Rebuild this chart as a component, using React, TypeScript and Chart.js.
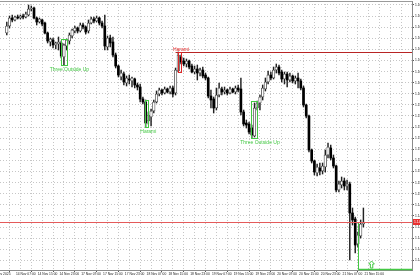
import React, { useEffect, useRef } from "react";
import { Chart, registerables } from "chart.js";

Chart.register(...registerables);

// ---- DATA (H1 bars, first bar = 14 Nov 04:00) ----
const openPrices = [
  1.1667, 1.1674, 1.1682, 1.168, 1.1683, 1.1682, 1.1684, 1.1683, 1.1685, 1.1691,
  1.1692, 1.1682, 1.1678, 1.168, 1.1677, 1.1667, 1.1658, 1.166, 1.1655, 1.1656,
  1.1657, 1.1643, 1.1654, 1.1659, 1.1664, 1.1669, 1.1672, 1.1669, 1.1675, 1.1673,
  1.1669, 1.1677, 1.1681, 1.1679, 1.1682, 1.1677, 1.1674, 1.1653, 1.1662, 1.1658,
  1.1645, 1.1634, 1.1623, 1.1626, 1.1617, 1.1621, 1.1619, 1.1621, 1.1615, 1.1613,
  1.1601, 1.1598, 1.1579, 1.1583, 1.1589, 1.1598, 1.1606, 1.161, 1.1607, 1.1611,
  1.1608, 1.1612, 1.1607, 1.1629, 1.1643, 1.1639, 1.1636, 1.1639, 1.1634, 1.1628,
  1.1631, 1.1627, 1.163, 1.1625, 1.1622, 1.1604, 1.1601, 1.1592, 1.1605, 1.1611,
  1.1608, 1.161, 1.1607, 1.1611, 1.1608, 1.1612, 1.1611, 1.1588, 1.1577, 1.1576,
  1.1572, 1.1564, 1.1592, 1.1597, 1.1603, 1.1611, 1.1618, 1.1625, 1.1622, 1.163,
  1.1633, 1.1628, 1.1621, 1.1626, 1.162, 1.1624, 1.1619, 1.1622, 1.1619, 1.1612,
  1.1595, 1.1584, 1.155, 1.1539, 1.1527, 1.1532, 1.1529, 1.1533, 1.1545, 1.1552,
  1.1542, 1.1534, 1.151, 1.1515, 1.1519, 1.1514, 1.1516, 1.1487, 1.1481, 1.1456,
  1.1464, 1.1476,
];
const highPrices = [
  1.1678, 1.1684, 1.1685, 1.1684, 1.1685, 1.1685, 1.1686, 1.1688, 1.1695, 1.1694,
  1.1693, 1.1683, 1.1682, 1.1681, 1.1678, 1.1668, 1.1662, 1.1662, 1.1658, 1.1663,
  1.1659, 1.1656, 1.1661, 1.1667, 1.1671, 1.1674, 1.1673, 1.1677, 1.1677, 1.1674,
  1.168, 1.1683, 1.1683, 1.1684, 1.1683, 1.1679, 1.1685, 1.1664, 1.1665, 1.1663,
  1.1647, 1.1635, 1.163, 1.1628, 1.1624, 1.1625, 1.1623, 1.1622, 1.1617, 1.1616,
  1.1603, 1.16, 1.1588, 1.1591, 1.16, 1.1609, 1.1612, 1.1611, 1.1613, 1.1612,
  1.1614, 1.1614, 1.1632, 1.1648, 1.1645, 1.1642, 1.1641, 1.164, 1.1636, 1.1634,
  1.1635, 1.1632, 1.1633, 1.1627, 1.1623, 1.161, 1.1603, 1.1612, 1.1617, 1.1613,
  1.1613, 1.1611, 1.1613, 1.1612, 1.1614, 1.1615, 1.1622, 1.159, 1.158, 1.1578,
  1.1575, 1.1597, 1.1599, 1.1605, 1.1615, 1.1622, 1.1629, 1.1628, 1.1633, 1.1636,
  1.1635, 1.163, 1.1628, 1.1628, 1.1627, 1.1625, 1.1624, 1.1627, 1.1621, 1.1614,
  1.1596, 1.1585, 1.1551, 1.154, 1.1536, 1.1537, 1.1537, 1.155, 1.1557, 1.1555,
  1.1545, 1.1535, 1.1519, 1.1523, 1.1522, 1.152, 1.1518, 1.1492, 1.1483, 1.1468,
  1.148, 1.1492,
];
const lowPrices = [
  1.1665, 1.1672, 1.1678, 1.1679, 1.1681, 1.1681, 1.1681, 1.1682, 1.1684, 1.1689,
  1.1681, 1.1675, 1.1677, 1.1674, 1.1666, 1.1657, 1.1654, 1.1652, 1.1651, 1.165,
  1.1642, 1.1635, 1.165, 1.1656, 1.1662, 1.1667, 1.1667, 1.1668, 1.1671, 1.1666,
  1.1667, 1.1676, 1.1677, 1.1678, 1.1675, 1.1672, 1.165, 1.165, 1.1653, 1.1643,
  1.1632, 1.1623, 1.162, 1.1615, 1.1614, 1.1616, 1.1613, 1.1612, 1.161, 1.1598,
  1.1596, 1.1573, 1.1576, 1.1574, 1.1587, 1.1597, 1.1604, 1.1605, 1.1606, 1.1607,
  1.1606, 1.1603, 1.1605, 1.1628, 1.1636, 1.1634, 1.1633, 1.1631, 1.1627, 1.1626,
  1.162, 1.1624, 1.1622, 1.162, 1.1602, 1.1592, 1.1587, 1.159, 1.1603, 1.1605,
  1.1606, 1.1605, 1.1606, 1.1607, 1.1606, 1.1608, 1.1585, 1.1574, 1.1572, 1.1566,
  1.1562, 1.1563, 1.159, 1.159, 1.16, 1.1609, 1.1616, 1.162, 1.1621, 1.1627,
  1.1625, 1.1618, 1.1616, 1.1613, 1.1618, 1.1617, 1.1616, 1.1612, 1.161, 1.1593,
  1.1582, 1.1548, 1.1537, 1.1525, 1.1524, 1.1525, 1.1526, 1.1528, 1.1542, 1.154,
  1.1532, 1.1508, 1.1508, 1.1512, 1.151, 1.151, 1.144, 1.1475, 1.1447, 1.1453,
  1.1462, 1.1473,
];
const closePrices = [
  1.1674, 1.1682, 1.168, 1.1683, 1.1682, 1.1684, 1.1683, 1.1686, 1.1691, 1.1692,
  1.1682, 1.1678, 1.1681, 1.1676, 1.1667, 1.1659, 1.1661, 1.1655, 1.1657, 1.1658,
  1.1644, 1.1655, 1.166, 1.1665, 1.167, 1.1672, 1.1669, 1.1675, 1.1673, 1.1668,
  1.1677, 1.1681, 1.1679, 1.1682, 1.1677, 1.1674, 1.1654, 1.1662, 1.1657, 1.1645,
  1.1634, 1.1625, 1.1627, 1.1618, 1.1622, 1.162, 1.1622, 1.1615, 1.1613, 1.1601,
  1.1598, 1.1577, 1.1585, 1.1589, 1.1598, 1.1606, 1.161, 1.1607, 1.1611, 1.1608,
  1.1612, 1.1606, 1.163, 1.1645, 1.1638, 1.1636, 1.1639, 1.1633, 1.1628, 1.1631,
  1.1627, 1.163, 1.1624, 1.1622, 1.1604, 1.16, 1.1592, 1.1605, 1.1612, 1.1608,
  1.161, 1.1607, 1.1611, 1.1608, 1.1612, 1.161, 1.1588, 1.1576, 1.1575, 1.1568,
  1.1565, 1.1592, 1.1597, 1.1603, 1.1612, 1.1618, 1.1625, 1.1622, 1.163, 1.1633,
  1.1627, 1.1621, 1.1626, 1.162, 1.1624, 1.1619, 1.1622, 1.1619, 1.1612, 1.1595,
  1.1584, 1.155, 1.1539, 1.1528, 1.1533, 1.1529, 1.1534, 1.1545, 1.1553, 1.1542,
  1.1534, 1.151, 1.1516, 1.1519, 1.1514, 1.1516, 1.1487, 1.148, 1.1455, 1.1465,
  1.1476, 1.1478,
];

// time labels, one every 8 bars starting at bar 3
const timeLabels = [
  "14 Nov 07:00", "14 Nov 15:00", "14 Nov 23:00", "17 Nov 07:00", "17 Nov 15:00",
  "17 Nov 23:00", "18 Nov 07:00", "18 Nov 15:00", "18 Nov 23:00", "19 Nov 07:00",
  "19 Nov 15:00", "19 Nov 23:00", "20 Nov 07:00", "20 Nov 15:00", "20 Nov 23:00",
  "21 Nov 07:00", "21 Nov 15:00",
];
const firstLabelBar = 3;
const leftDateLabel = "14 Nov 2025";

const priceTicks = [
  1.1695, 1.16839, 1.16728, 1.16617, 1.16506, 1.16395, 1.16284, 1.16173,
  1.16062, 1.15951, 1.1584, 1.15729, 1.15618, 1.15507, 1.15396, 1.15285,
  1.15174, 1.15063, 1.14952, 1.14841, 1.1473, 1.14619, 1.14508, 1.14397,
];

// candle patterns
const patternNames = ["Three Outside Up", "Harami", "Harami", "Three Outside Up"];
const patternStart = [20, 51, 63, 90];
const patternEnd = [22, 52, 64, 92];
const patternBullish = [true, true, false, true];
const patternLabelBar = [23, 52, 64, 93];

// signal zone / arrow
const zoneStartBar = 129;
const zoneBottomPrice = 1.143;
const arrowBar = 134;
const arrowTipPrice = 1.1439;

const X_MIN = -0.39;
const X_MAX = 146.75;
const Y_MIN = 1.143;
const Y_MAX = 1.1699;

const GREEN = "#44c844";
const RED = "#e02828";
const FONT = "'Liberation Sans', Arial, sans-serif";

const overlayPlugin = {
  id: "overlay",
  afterDatasetsDraw(chart: any) {
    const { ctx, chartArea: a, scales } = chart;
    const xs = scales.x;
    const ys = scales.y;
    const px = (v: number) => xs.getPixelForValue(v);
    const py = (v: number) => ys.getPixelForValue(v);
    const snap = (v: number) => Math.round(v) + 0.5;
    const last = closePrices.length - 1;

    ctx.save();
    ctx.beginPath();
    ctx.rect(a.left, a.top, a.right - a.left, a.bottom - a.top + 1);
    ctx.clip();

    // top border
    ctx.strokeStyle = "#9a9a9a";
    ctx.lineWidth = 1;
    ctx.beginPath();
    ctx.moveTo(a.left, snap(a.top - 0.5));
    ctx.lineTo(a.right, snap(a.top - 0.5));
    ctx.stroke();

    // green zone
    const zx = snap(px(zoneStartBar));
    const zt = snap(py(closePrices[last]));
    const zb = Math.round(py(zoneBottomPrice)) - 0.5;
    ctx.strokeStyle = GREEN;
    ctx.lineWidth = 1;
    ctx.beginPath();
    ctx.moveTo(a.right + 2, zt);
    ctx.lineTo(zx, zt);
    ctx.lineTo(zx, zb);
    ctx.lineTo(a.right + 2, zb);
    ctx.stroke();
    ctx.lineWidth = 1.5;
    ctx.beginPath();
    ctx.moveTo(zx, zb);
    ctx.lineTo(a.right, zb);
    ctx.stroke();

    // arrow
    const ax = px(arrowBar);
    const at = py(arrowTipPrice);
    ctx.lineWidth = 1;
    ctx.strokeStyle = GREEN;
    ctx.beginPath();
    ctx.moveTo(ax, at);
    ctx.lineTo(ax + 2.8, at + 3);
    ctx.lineTo(ax + 1.2, at + 3);
    ctx.lineTo(ax + 1.2, at + 7);
    ctx.lineTo(ax - 1.2, at + 7);
    ctx.lineTo(ax - 1.2, at + 3);
    ctx.lineTo(ax - 2.8, at + 3);
    ctx.closePath();
    ctx.stroke();

    // resistance line from red Harami
    const redIdx = patternBullish.indexOf(false);
    let resPrice = -Infinity;
    for (let i = patternStart[redIdx]; i <= patternEnd[redIdx]; i++) resPrice = Math.max(resPrice, highPrices[i]);
    ctx.strokeStyle = "#b82424";
    ctx.lineWidth = 1;
    ctx.beginPath();
    ctx.moveTo(px(patternStart[redIdx] - 1), snap(py(resPrice)));
    ctx.lineTo(a.right, snap(py(resPrice)));
    ctx.stroke();

    // current price line
    ctx.strokeStyle = "#e45a5a";
    ctx.beginPath();
    ctx.moveTo(a.left, snap(py(closePrices[last])));
    ctx.lineTo(a.right, snap(py(closePrices[last])));
    ctx.stroke();

    // pattern boxes + labels
    ctx.font = `5px ${FONT}`;
    ctx.textAlign = "center";
    patternNames.forEach((name, k) => {
      let hi = -Infinity;
      let lo = Infinity;
      for (let i = patternStart[k]; i <= patternEnd[k]; i++) {
        hi = Math.max(hi, highPrices[i]);
        lo = Math.min(lo, lowPrices[i]);
      }
      const color = patternBullish[k] ? GREEN : RED;
      const x1 = snap(px(patternStart[k]) - 0.5);
      const x2 = snap(px(patternEnd[k]));
      const y1 = snap(py(hi));
      const y2 = snap(py(lo));
      ctx.strokeStyle = color;
      ctx.lineWidth = 1;
      ctx.strokeRect(x1, y1, x2 - x1, y2 - y1);
      ctx.fillStyle = color;
      if (patternBullish[k]) {
        ctx.textBaseline = "top";
        ctx.fillText(name, px(patternLabelBar[k]), y2 + 1.5);
      } else {
        ctx.textBaseline = "bottom";
        ctx.fillText(name, px(patternLabelBar[k]), y1 - 0.5);
      }
    });
    ctx.restore();
  },
  afterDraw(chart: any) {
    const { ctx, chartArea: a, scales } = chart;
    const py = (v: number) => scales.y.getPixelForValue(v);
    const last = closePrices.length - 1;
    const yc = Math.round(py(closePrices[last]));
    ctx.save();
    ctx.fillStyle = "#e83030";
    ctx.fillRect(a.right + 1, yc - 3, 12, 6);
    ctx.fillStyle = "#ffffff";
    ctx.font = `3.4px ${FONT}`;
    ctx.textAlign = "left";
    ctx.textBaseline = "middle";
    ctx.fillText(closePrices[last].toFixed(5), a.right + 2, yc + 0.3);
    // leftmost date label (cut by the canvas edge)
    ctx.fillStyle = "#222";
    ctx.textAlign = "right";
    ctx.textBaseline = "top";
    ctx.fillText(leftDateLabel, scales.x.getPixelForValue(1.4), a.bottom + 2.5);
    ctx.restore();
  },
};

export default function App() {
  const ref = useRef<HTMLCanvasElement | null>(null);

  useEffect(() => {
    if (!ref.current) return;
    const idx = openPrices.map((_, i) => i);
    const bullIdx = idx.filter((i) => closePrices[i] >= openPrices[i]);
    const bearIdx = idx.filter((i) => closePrices[i] < openPrices[i]);
    const bullBodies = bullIdx.map((i) => ({ x: i, y: [openPrices[i], closePrices[i]] }));
    const bearBodies = bearIdx.map((i) => ({ x: i, y: [openPrices[i], closePrices[i]] }));
    const wicks = idx.map((i) => ({ x: i, y: [lowPrices[i], highPrices[i]] }));
    const gridBars: number[] = [];
    for (let v = firstLabelBar; v < X_MAX; v += 4) gridBars.push(v);
    const labelFor = (v: number) => {
      const n = (v - firstLabelBar) / 8;
      return Number.isInteger(n) && n < timeLabels.length ? timeLabels[n] : "";
    };

    const chart = new Chart(ref.current, {
      type: "bar",
      data: {
        datasets: [
          {
            label: "bull",
            data: bullBodies as any,
            order: 0,
            grouped: false,
            barThickness: 2.6,
            backgroundColor: "#ffffff",
            borderColor: "#4a4a4a",
            borderWidth: 0.8,
            borderSkipped: false,
          } as any,
          {
            label: "bear",
            data: bearBodies as any,
            order: 0,
            grouped: false,
            barThickness: 2,
            backgroundColor: "#000000",
            borderWidth: 0,
            minBarLength: 1,
          } as any,
          {
            label: "wick",
            data: wicks as any,
            order: 1,
            grouped: false,
            barThickness: 0.8,
            backgroundColor: "#222222",
            borderWidth: 0,
          } as any,
        ],
      },
      options: {
        animation: false,
        responsive: false,
        maintainAspectRatio: false,
        layout: { padding: { top: 1, left: 0, right: 0, bottom: 0 } },
        plugins: { legend: { display: false }, tooltip: { enabled: false } },
        scales: {
          x: {
            type: "linear",
            min: X_MIN,
            max: X_MAX,
            afterBuildTicks: (s: any) => {
              s.ticks = gridBars.map((v) => ({ value: v }));
            },
            afterFit: (s: any) => {
              s.height = 10;
              s.paddingLeft = 0;
              s.paddingRight = 0;
            },
            grid: {
              color: "#c6c6c6",
              lineWidth: 1,
              drawTicks: true,
              tickLength: 2,
              tickColor: (c: any) => (c.tick && labelFor(c.tick.value) ? "#555" : "rgba(0,0,0,0)"),
            },
            border: { display: true, color: "#8a8a8a", width: 1, dash: [1, 2] },
            ticks: {
              autoSkip: false,
              maxRotation: 0,
              minRotation: 0,
              align: "start",
              labelOffset: 1,
              padding: 0.5,
              color: "#222",
              font: { size: 3.3, family: FONT },
              callback: (v: any) => labelFor(Number(v)),
            },
          } as any,
          y: {
            position: "right",
            min: Y_MIN,
            max: Y_MAX,
            afterBuildTicks: (s: any) => {
              s.ticks = priceTicks.map((v) => ({ value: v }));
            },
            afterFit: (s: any) => {
              s.width = 8;
              s.paddingTop = 0;
              s.paddingBottom = 0;
            },
            grid: { color: "#c6c6c6", lineWidth: 1, tickLength: 2, tickColor: "#555" },
            border: { display: true, color: "#8a8a8a", width: 1, dash: [1, 2] },
            ticks: {
              padding: 1,
              color: "#222",
              font: { size: 3.3, family: FONT },
              callback: (v: any) => Number(v).toFixed(5),
            },
          } as any,
        },
      },
      plugins: [overlayPlugin],
    });
    return () => chart.destroy();
  }, []);

  return (
    <div style={{ position: "fixed", left: 0, top: 0, width: 420, height: 280, background: "#fff" }}>
      <canvas ref={ref} width={420} height={280} style={{ width: 420, height: 280, display: "block" }} />
    </div>
  );
}
